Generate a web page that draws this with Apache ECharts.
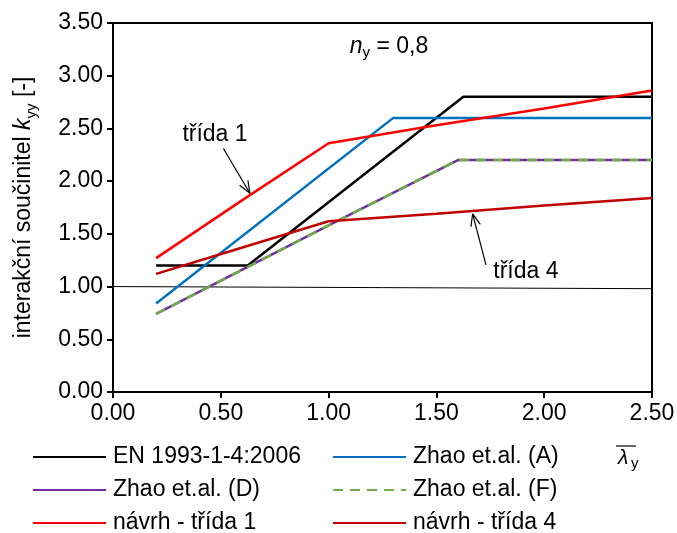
<!DOCTYPE html>
<html><head><meta charset="utf-8">
<script src="https://cdn.jsdelivr.net/npm/echarts@6/dist/echarts.min.js"></script>
<style>html,body{margin:0;padding:0;background:#fff}#c{width:677px;height:533px}</style>
</head><body><div id="c"></div>
<script>
// ---- data ----
const enX = [0.2, 0.625, 1.625, 2.5];
const enY = [1.2, 1.2, 2.8, 2.8];
const zaX = [0.2, 1.3, 2.5];
const zaY = [0.84, 2.6, 2.6];
const zdX = [0.2, 0.6, 1.0, 1.6, 2.5];
const zdY = [0.74, 1.16, 1.58, 2.2, 2.2];
const zfX = [0.2, 0.6, 1.0, 1.6, 2.5];
const zfY = [0.74, 1.16, 1.58, 2.2, 2.2];
const n1X = [0.2, 0.6, 1.0, 1.5, 2.0, 2.5];
const n1Y = [1.27, 1.82, 2.36, 2.53, 2.69, 2.86];
const n4X = [0.2, 0.6, 1.0, 1.5, 2.0, 2.5];
const n4Y = [1.12, 1.37, 1.62, 1.69, 1.77, 1.84];
const refX = [0, 2.5];
const refY = [1.0, 0.98];
const names = ['EN 1993-1-4:2006', 'Zhao et.al. (A)', 'Zhao et.al. (D)', 'Zhao et.al. (F)', 'návrh - třída 1', 'návrh - třída 4'];
const notes = [
  {text: 'třída 1', at: [0.473, 2.44], tail: [0.512, 2.31], tip: [0.635, 1.885]},
  {text: 'třída 4', at: [1.915, 1.14], tail: [1.73, 1.205], tip: [1.668, 1.69]}
];
const nyPos = [1.28, 3.28];

const FF = '"Liberation Sans", Arial, sans-serif';
const FS = 23;
const pairs = (xs, ys) => xs.map((x, i) => [x, ys[i]]);
const chart = echarts.init(document.getElementById('c'), null, {renderer: 'canvas'});

function line(name, xs, ys, color, extra) {
  return Object.assign({
    name, type: 'line', data: pairs(xs, ys), symbol: 'none', silent: true,
    lineStyle: {color, width: 2.5}, itemStyle: {color}, animation: false
  }, extra || {});
}
const legendBase = {
  orient: 'vertical', itemWidth: 73, itemHeight: 14, itemGap: 9, padding: 0,
  width: 300, height: 140,
  selectedMode: false, itemStyle: {opacity: 0, borderWidth: 0},
  textStyle: {fontSize: FS, color: '#000', fontFamily: FF, lineHeight: 24, padding: [0, 0, 0, 2]}
};

chart.setOption({
  animation: false,
  textStyle: {fontFamily: FF},
  grid: {left: 113, top: 23, width: 539, height: 369, show: true, borderColor: '#000', borderWidth: 2,
         containLabel: false, outerBoundsMode: 'none'},
  xAxis: {
    type: 'value', min: 0, max: 2.5, interval: 0.5,
    axisLine: {lineStyle: {color: '#000', width: 2}},
    axisTick: {show: true, inside: false, length: 6, lineStyle: {color: '#000', width: 2}},
    splitLine: {show: false},
    axisLabel: {color: '#000', fontSize: FS, fontFamily: FF, margin: 10, formatter: v => v.toFixed(2)}
  },
  yAxis: {
    type: 'value', min: 0, max: 3.5, interval: 0.5,
    axisLine: {show: true, lineStyle: {color: '#000', width: 2}},
    axisTick: {show: true, inside: false, length: 6, lineStyle: {color: '#000', width: 2}},
    splitLine: {show: false},
    axisLabel: {color: '#000', fontSize: FS, fontFamily: FF, margin: 10, formatter: v => v.toFixed(2)},
    name: '{a|interakční součinitel }{k|k}{s|yy}{a| [-]}',
    nameLocation: 'middle', nameGap: 74,
    nameTextStyle: {
      rich: {
        a: {fontSize: FS, fontFamily: FF, color: '#000', lineHeight: 30},
        k: {fontSize: FS, fontFamily: FF, color: '#000', fontStyle: 'italic', lineHeight: 30},
        s: {fontSize: 15, fontFamily: FF, color: '#000', lineHeight: 30, verticalAlign: 'bottom'}
      }
    }
  },
  legend: [
    Object.assign({left: 32, top: 445, data: [names[0], names[2], names[4]]}, legendBase),
    Object.assign({left: 332, top: 445, data: [names[1], names[3], names[5]]}, legendBase)
  ],
  series: [
    line('ref', refX, refY, '#000', {lineStyle: {color: '#000', width: 1}, legendHoverLink: false}),
    line(names[0], enX, enY, '#000000'),
    line(names[1], zaX, zaY, '#0070C0'),
    line(names[2], zdX, zdY, '#7030A0'),
    line(names[3], zfX, zfY, '#70AD47', {lineStyle: {color: '#70AD47', width: 2.5, type: [10, 7]}}),
    line(names[4], n1X, n1Y, '#FF0000'),
    line(names[5], n4X, n4Y, '#C00000')
  ]
});

function px(p) { return chart.convertToPixel({gridIndex: 0}, p); }
const g = [];
notes.forEach(n => {
  const c = px(n.at), a = px(n.tail), b = px(n.tip);
  g.push({type: 'text', x: c[0], y: c[1], silent: true,
    style: {text: n.text, fontSize: FS, fontFamily: FF, fill: '#000', align: 'center', verticalAlign: 'middle'}});
  g.push({type: 'line', silent: true, shape: {x1: a[0], y1: a[1], x2: b[0], y2: b[1]}, style: {stroke: '#000', lineWidth: 1.2}});
  const ang = Math.atan2(a[1] - b[1], a[0] - b[0]);
  const L = 13, w = 0.38;
  [ang - w, ang + w].forEach(t => {
    g.push({type: 'line', silent: true, shape: {x1: b[0], y1: b[1], x2: b[0] + L * Math.cos(t), y2: b[1] + L * Math.sin(t)}, style: {stroke: '#000', lineWidth: 1.2}});
  });
});
const ny = px(nyPos);
g.push({type: 'text', x: ny[0], y: ny[1], silent: true,
  style: {text: '{n|n}{s|y}{a| = 0,8}', align: 'center', verticalAlign: 'middle',
    rich: {
      n: {fontSize: FS, fontFamily: FF, fill: '#000', fontStyle: 'italic', lineHeight: 28},
      s: {fontSize: 15, fontFamily: FF, fill: '#000', lineHeight: 28, verticalAlign: 'bottom'},
      a: {fontSize: FS, fontFamily: FF, fill: '#000', lineHeight: 28}
    }}});
// x axis name (lambda with bar, subscript y)
g.push({type: 'text', x: 618, y: 448, silent: true,
  style: {text: 'λ', fontSize: 21, fontFamily: FF, fontStyle: 'italic', fill: '#000'}});
g.push({type: 'text', x: 631, y: 456, silent: true,
  style: {text: 'y', fontSize: 15, fontFamily: FF, fill: '#000'}});
g.push({type: 'line', silent: true, shape: {x1: 616, y1: 446, x2: 636, y2: 446}, style: {stroke: '#000', lineWidth: 1.2}});
chart.setOption({graphic: g});
</script>
</body></html>
